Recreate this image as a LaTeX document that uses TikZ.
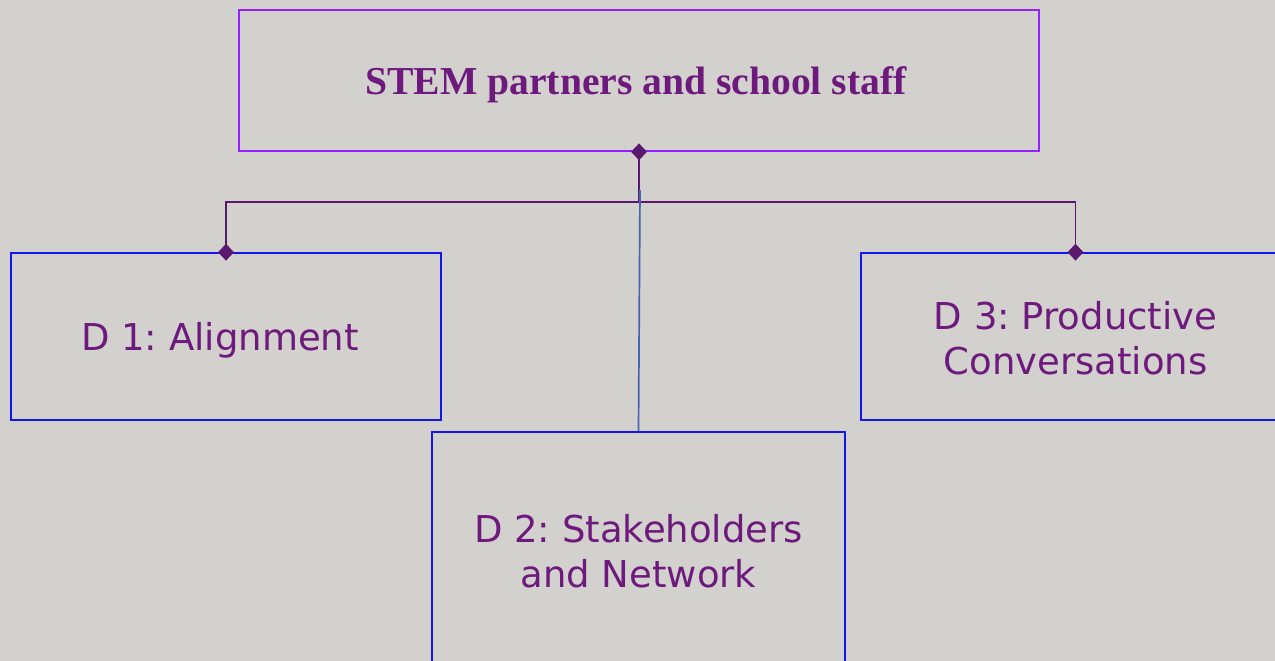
\documentclass[tikz,border=0pt]{standalone}
\usepackage{fontspec}
\setmainfont{DejaVu Sans}
\newfontfamily\titlefont{Liberation Serif}
\usetikzlibrary{shapes.geometric}
\definecolor{bgc}{RGB}{211,209,205}
\definecolor{topborder}{RGB}{150,30,255}
\definecolor{txtpurple}{RGB}{110,25,125}
\definecolor{boxblue}{RGB}{20,20,235}
\definecolor{connpurple}{RGB}{90,25,110}
\definecolor{bluelink}{RGB}{70,100,180}
\tikzset{
  topbox/.style={draw=topborder, line width=1.6pt, rectangle, minimum width=800pt, minimum height=141pt, inner sep=0pt},
  titletext/.style={inner sep=0pt, font=\titlefont\bfseries\fontsize{39.6}{45}\selectfont, text=txtpurple},
  childbox/.style={draw=boxblue, line width=1.6pt, rectangle, inner sep=0pt},
  childtext/.style={inner sep=0pt, align=center, font=\fontsize{37}{45}\selectfont, text=txtpurple},
  conn/.style={draw=connpurple, line width=1.9pt},
  bluelinkstyle/.style={draw=bluelink, line width=1.7pt},
  dmd/.style={diamond, fill=connpurple, inner sep=0pt, minimum width=16pt, minimum height=17pt}
}
\begin{document}
\frenchspacing
\begin{tikzpicture}[x=1pt,y=-1pt]
\fill[bgc] (0,0) rectangle (1275,661);
\useasboundingbox (0,0) rectangle (1275,661);
\begin{scope}
\clip (0,0) rectangle (1275,661);
\node[topbox] (top) at (639,80.5) {};
\node[titletext] (topt) at (636,84.5) {STEM partners and school staff};
\node[childbox, minimum width=430pt, minimum height=167pt] (d1) at (226,336.5) {};
\node[childtext] (d1t) at (220,340.5) {D 1: Alignment};
\node[childbox, minimum width=429pt, minimum height=167pt] (d3) at (1075.5,336.5) {};
\node[childtext] (d3t) at (1075.5,338.5) {D 3: Productive\\Conversations};
\node[childbox, minimum width=413pt, minimum height=238pt] (d2) at (638.5,551) {};
\node[childtext] (d2t) at (638.5,551) {D 2: Stakeholders\\and Network};
\coordinate (j) at (639,202);
\coordinate (b) at (640,190);
\draw[conn] (top.south) -- (j);
\draw[conn] (j) -| (d1.north);
\draw[conn] (j) -| (d3.north);
\draw[bluelinkstyle] (b) -- (d2.north);
\node[dmd] (dt) at (top.south) {};
\node[dmd] (dl) at (d1.north) {};
\node[dmd] (dr) at (d3.north) {};
\end{scope}
\end{tikzpicture}
\end{document}
